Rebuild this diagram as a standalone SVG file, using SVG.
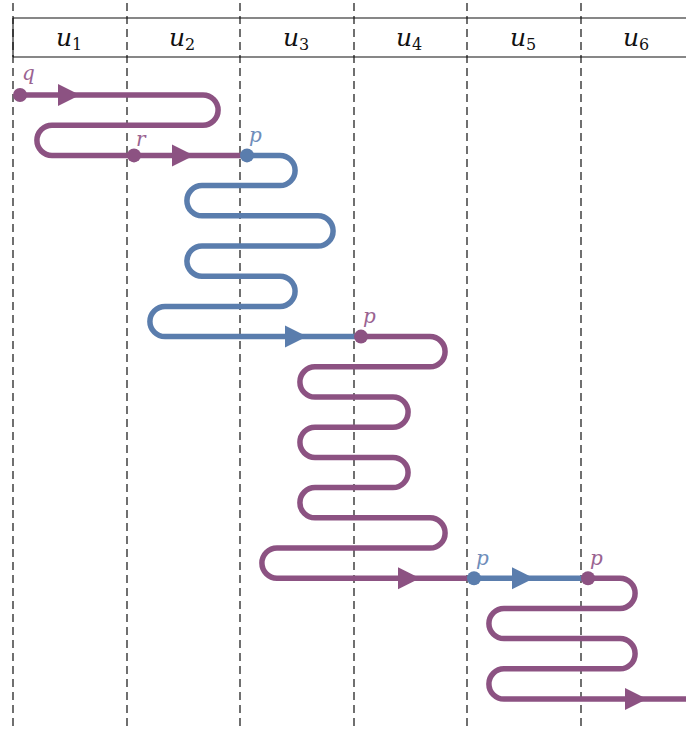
<svg xmlns="http://www.w3.org/2000/svg" xmlns:xlink="http://www.w3.org/1999/xlink" width="686" height="731" viewBox="0 0 686 731">
<style>
.grid{stroke:#111;stroke-width:1.2;stroke-dasharray:8 5;fill:none}
.frame{stroke:#111;stroke-width:1.1;fill:none}
.pu{stroke:#8C5282;stroke-width:5.5;fill:none}
.bl{stroke:#5A7DAD;stroke-width:5.5;fill:none}
.puf{fill:#8C5282}
.blf{fill:#5A7DAD}
text{font-family:'DejaVu Serif','Liberation Serif',serif}
.hdr{font-size:25px;fill:#111}
.var{font-style:italic}
.sub{font-size:16px;font-style:normal}
.lbl{font-style:italic;font-size:20px}
.lpu{fill:#9A6391}
.lbl2{fill:#6F8DBA}
</style>
<defs>
<path id="ah" d="M-11,-11 L11,0 L-11,11 Z"/>
</defs>
<g id="grid">
<line class="frame" x1="13" y1="18" x2="686" y2="18"/>
<line class="frame" x1="13" y1="57" x2="686" y2="57"/>
<line class="frame" x1="13" y1="18" x2="13" y2="57"/>
<line class="grid" x1="13" y1="3" x2="13" y2="731"/>
<line class="grid" x1="127" y1="3" x2="127" y2="731"/>
<line class="grid" x1="240" y1="3" x2="240" y2="731"/>
<line class="grid" x1="354" y1="3" x2="354" y2="731"/>
<line class="grid" x1="467" y1="3" x2="467" y2="731"/>
<line class="grid" x1="581" y1="3" x2="581" y2="731"/>
</g>
<g id="header">
<text class="hdr" x="56" y="46"><tspan class="var">u</tspan><tspan class="sub" dy="4">1</tspan></text>
<text class="hdr" x="169" y="46"><tspan class="var">u</tspan><tspan class="sub" dy="4">2</tspan></text>
<text class="hdr" x="283" y="46"><tspan class="var">u</tspan><tspan class="sub" dy="4">3</tspan></text>
<text class="hdr" x="396" y="46"><tspan class="var">u</tspan><tspan class="sub" dy="4">4</tspan></text>
<text class="hdr" x="510" y="46"><tspan class="var">u</tspan><tspan class="sub" dy="4">5</tspan></text>
<text class="hdr" x="623" y="46"><tspan class="var">u</tspan><tspan class="sub" dy="4">6</tspan></text>
</g>
<g id="connectors">
<path id="path1" class="pu" d="M20,95 H203 A15.1,15.1 0 0 1 203,125.2 H52 A15.1,15.1 0 0 0 52,155.4 H247"/>
<path id="path2" class="bl" d="M247,155.4 H280 A15.1,15.1 0 0 1 280,185.6 H202 A15.1,15.1 0 0 0 202,215.8 H318 A15.1,15.1 0 0 1 318,246 H202 A15.1,15.1 0 0 0 202,276.2 H280 A15.1,15.1 0 0 1 280,306.4 H165 A15.1,15.1 0 0 0 165,336.6 H361"/>
<path id="path3" class="pu" d="M361,336.6 H430 A15.1,15.1 0 0 1 430,366.8 H315 A15.1,15.1 0 0 0 315,397 H393 A15.1,15.1 0 0 1 393,427.2 H315 A15.1,15.1 0 0 0 315,457.4 H393 A15.1,15.1 0 0 1 393,487.6 H315 A15.1,15.1 0 0 0 315,517.8 H430 A15.1,15.1 0 0 1 430,548 H277 A15.1,15.1 0 0 0 277,578.2 H474"/>
<path id="path4" class="bl" d="M474,578.2 H588"/>
<path id="path5" class="pu" d="M588,578.2 H620 A15.1,15.1 0 0 1 620,608.4 H504 A15.1,15.1 0 0 0 504,638.6 H620 A15.1,15.1 0 0 1 620,668.8 H504 A15.1,15.1 0 0 0 504,699 H686"/>
<use xlink:href="#ah" class="puf" transform="translate(69,95)"/>
<use xlink:href="#ah" class="puf" transform="translate(183,155.4)"/>
<use xlink:href="#ah" class="blf" transform="translate(296,336.6)"/>
<use xlink:href="#ah" class="puf" transform="translate(409,578.2)"/>
<use xlink:href="#ah" class="blf" transform="translate(523,578.2)"/>
<use xlink:href="#ah" class="puf" transform="translate(636,699)"/>
</g>
<g id="node-q">
<circle class="puf" cx="20" cy="95" r="7"/>
<text class="lbl lpu" x="22" y="80">q</text>
</g>
<g id="node-r">
<circle class="puf" cx="134" cy="155.4" r="7"/>
<text class="lbl lpu" x="136" y="146">r</text>
</g>
<g id="node-p1">
<circle class="blf" cx="247" cy="155.4" r="7"/>
<text class="lbl lbl2" x="249" y="142">p</text>
</g>
<g id="node-p2">
<circle class="puf" cx="361" cy="336.6" r="7"/>
<text class="lbl lpu" x="363" y="323">p</text>
</g>
<g id="node-p3">
<circle class="blf" cx="474" cy="578.2" r="7"/>
<text class="lbl lbl2" x="476" y="565">p</text>
</g>
<g id="node-p4">
<circle class="puf" cx="588" cy="578.2" r="7"/>
<text class="lbl lpu" x="590" y="565">p</text>
</g>
</svg>
